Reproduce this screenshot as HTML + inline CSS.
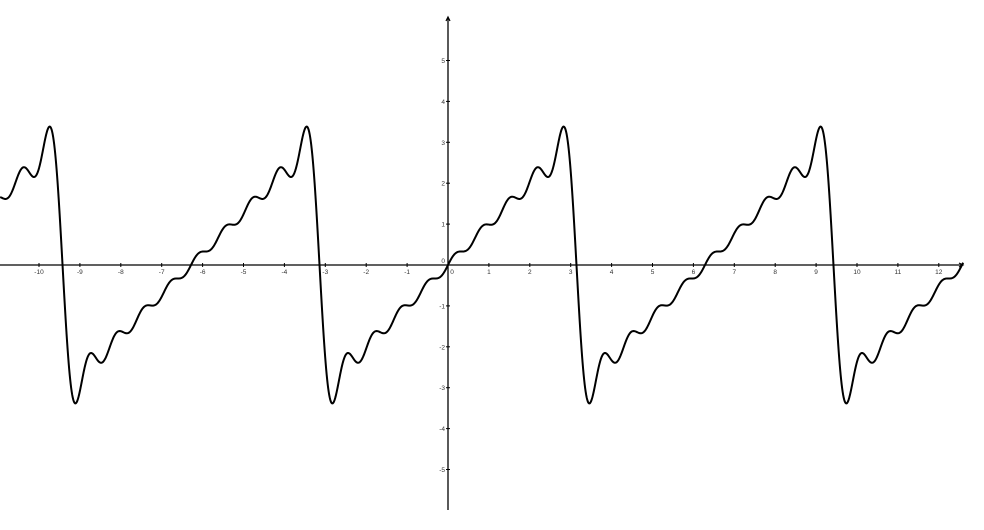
<!DOCTYPE html>
<html><head><meta charset="utf-8"><style>
html,body{margin:0;padding:0;background:#fff;}
svg{display:block;font-family:"Liberation Sans",sans-serif;}
</style></head><body>
<svg id="chart" width="984" height="530" viewBox="0 0 984 530">
<g id="axes"></g>
<g id="curveg"></g>
</svg>
<script>
// Fourier sine coefficients (sawtooth partial sum, 9 terms)
const coefficients = [2, -1, 0.6667, -0.5, 0.4, -0.3333, 0.2857, -0.25, 0.2222];
const xTicks = [-10,-9,-8,-7,-6,-5,-4,-3,-2,-1,1,2,3,4,5,6,7,8,9,10,11,12];
const yTicks = [-5,-4,-3,-2,-1,1,2,3,4,5];
const xDomain = [-10.95, 12.6];

const ox = 448, oy = 265, s = 40.9;
const X = v => ox + v*s;
const Y = v => oy - v*s;
const NS = "http://www.w3.org/2000/svg";
const axes = document.getElementById('axes');
function mk(tag, attrs, parent){const e=document.createElementNS(NS,tag);for(const k in attrs)e.setAttribute(k,attrs[k]);parent.appendChild(e);return e;}

const xa = mk('line',{x1:0,y1:oy,x2:962,y2:oy,stroke:'#000','stroke-width':1.3},axes);


const ya = mk('line',{x1:ox,y1:18,x2:ox,y2:510,stroke:'#000','stroke-width':1.3},axes);


const ax1 = mk('path',{d:`M959,${oy-2} L963,${oy} L959,${oy+2}`,fill:'none',stroke:'#000','stroke-width':1.2},axes);


const ax2 = mk('path',{d:`M${ox-2},21 L${ox},17 L${ox+2},21`,fill:'none',stroke:'#000','stroke-width':1.2},axes);



xTicks.forEach(v=>{
  const t = mk('line',{x1:X(v),y1:oy-2,x2:X(v),y2:oy+2,stroke:'#000','stroke-width':1},axes);
  
  
  const l = mk('text',{x:X(v),y:oy+9,'font-size':6.5,'text-anchor':'middle',fill:'#333'},axes);
  l.textContent = v;
  
  
});
yTicks.forEach(v=>{
  const t = mk('line',{x1:ox-2,y1:Y(v),x2:ox+2,y2:Y(v),stroke:'#000','stroke-width':1},axes);
  
  
  const l = mk('text',{x:ox-3,y:Y(v)+2.5,'font-size':6.5,'text-anchor':'end',fill:'#333'},axes);
  l.textContent = v;
  
  
});
const o1 = mk('text',{x:ox-3,y:oy-2,'font-size':6.5,'text-anchor':'end',fill:'#333'},axes);
o1.textContent='0';


const o2 = mk('text',{x:ox+4,y:oy+9,'font-size':6.5,'text-anchor':'middle',fill:'#333'},axes);
o2.textContent='0';



function f(x){let y=0;coefficients.forEach((b,i)=>{y+=b*Math.sin((i+1)*x);});return y;}
let d='';
for(let px=X(xDomain[0]);px<=X(xDomain[1]);px+=0.5){
  const x=(px-ox)/s;
  d += (d?'L':'M') + px.toFixed(2)+','+Y(f(x)).toFixed(2);
}
const c = mk('path',{d:d,fill:'none',stroke:'#000','stroke-width':2},document.getElementById('curveg'));


</script>
</body></html>
